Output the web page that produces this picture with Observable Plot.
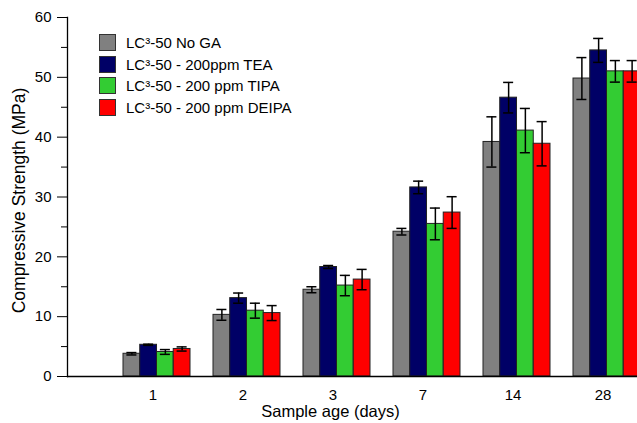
<!DOCTYPE html>
<html><head><meta charset="utf-8">
<script src="https://cdn.jsdelivr.net/npm/d3@7"></script>
<script src="https://cdn.jsdelivr.net/npm/@observablehq/plot@0.6"></script>
<style>
body{margin:0;background:#fff;font-family:"Liberation Sans",Arial,sans-serif;}
#wrap{position:relative;width:637px;height:423px;overflow:hidden;}
#legend{position:absolute;left:99px;top:32px;font-size:15px;color:#000;}
.item{display:flex;align-items:center;height:21.5px;}
.sw{width:17px;height:17px;border:1px solid #333;margin-right:10px;box-sizing:border-box;}
</style></head><body><div id="wrap"><div id="legend"></div></div>
<script>
const days = ["1", "2", "3", "7", "14", "28"];
const series = ["LC³-50 No GA", "LC³-50 - 200ppm TEA", "LC³-50 - 200 ppm TIPA", "LC³-50 - 200 ppm DEIPA"];
const colors = ["#808080", "#000066", "#33cc33", "#ff0000"];
const noGA = [3.8, 10.3, 14.5, 24.2, 39.2, 49.8];
const noGAErr = [0.2, 0.9, 0.5, 0.55, 4.2, 3.5];
const tea = [5.3, 13.1, 18.3, 31.6, 46.6, 54.5];
const teaErr = [0.1, 0.85, 0.25, 1.05, 2.55, 2.0];
const tipa = [4.1, 11.0, 15.2, 25.5, 41.1, 51.0];
const tipaErr = [0.4, 1.25, 1.7, 2.65, 3.7, 1.8];
const deipa = [4.6, 10.6, 16.2, 27.4, 38.9, 51.0];
const deipaErr = [0.35, 1.25, 1.7, 2.65, 3.7, 1.8];
const yTicks = [0, 10, 20, 30, 40, 50, 60];
const yMinor = [5, 15, 25, 35, 45, 55];
const xTitle = "Sample age (days)";
const yTitle = "Compressive Strength (MPa)";

const values = [noGA, tea, tipa, deipa];
const errors = [noGAErr, teaErr, tipaErr, deipaErr];
const tables = values.map((vals, s) => days.map((d, j) => ({
  day: d, series: series[s], value: vals[j], lo: vals[j] - errors[s][j], hi: vals[j] + errors[s][j]
})));

const band = 66.97, bw = band / 4, cap = 5;
const marks = [];
tables.forEach((t, i) => {
  marks.push(Plot.barY(t, {x: "day", y: "value", fill: colors[i], stroke: "#222", strokeWidth: 1,
    insetLeft: i * bw, insetRight: (3 - i) * bw}));
});
tables.forEach((t, i) => {
  const c = (i + 0.5) * bw;
  marks.push(Plot.ruleX(t, {x: "day", y1: "lo", y2: "hi", dx: c - band / 2, stroke: "#000", strokeWidth: 1.5}));
  marks.push(Plot.tickY(t, {x: "day", y: "hi", insetLeft: c - cap, insetRight: band - c - cap, stroke: "#000", strokeWidth: 1.5}));
  marks.push(Plot.tickY(t, {x: "day", y: "lo", insetLeft: c - cap, insetRight: band - c - cap, stroke: "#000", strokeWidth: 1.5}));
});

const chart = Plot.plot({
  width: 637, height: 423,
  marginLeft: 67, marginRight: 0, marginTop: 17, marginBottom: 47,
  style: {fontFamily: "Liberation Sans, Arial, sans-serif", fontSize: "15px", background: "white", overflow: "hidden", color: "#000"},
  x: {domain: days, range: [67, 640], paddingInner: 0.256, paddingOuter: 0.311, align: 1, axis: null},
  y: {domain: [0, 60], axis: null},
  marks: [
    ...marks,
    Plot.ruleY([0], {stroke: "#000", strokeWidth: 1.3}),
    Plot.frame({anchor: "left", stroke: "#000", strokeWidth: 1.3}),
    Plot.axisY(yTicks, {tickSize: 10, tickPadding: 6, label: null, fontSize: 15, stroke: "#000"}),
    Plot.axisY(yMinor, {tickSize: 6, tickFormat: () => "", label: null, stroke: "#000"}),
    Plot.axisX({tickSize: 0, tickPadding: 13, label: null, fontSize: 15, dx: -4}),
    Plot.text([xTitle], {frameAnchor: "bottom", dx: -22, dy: 40, fontSize: 16.5, fill: "#000"}),
    Plot.text([yTitle], {frameAnchor: "left", textAnchor: "middle", rotate: -90, dx: -48, dy: 3.5, fontSize: 17.5, fill: "#000"})
  ]
});
const wrap = document.getElementById("wrap");
wrap.insertBefore(chart, wrap.firstChild);
const legend = document.getElementById("legend");
series.forEach((s, i) => {
  const item = document.createElement("div");
  item.className = "item";
  const sw = document.createElement("div");
  sw.className = "sw";
  sw.style.background = colors[i];
  const label = document.createElement("span");
  label.textContent = s;
  item.appendChild(sw);
  item.appendChild(label);
  legend.appendChild(item);
});
</script>
</body></html>
